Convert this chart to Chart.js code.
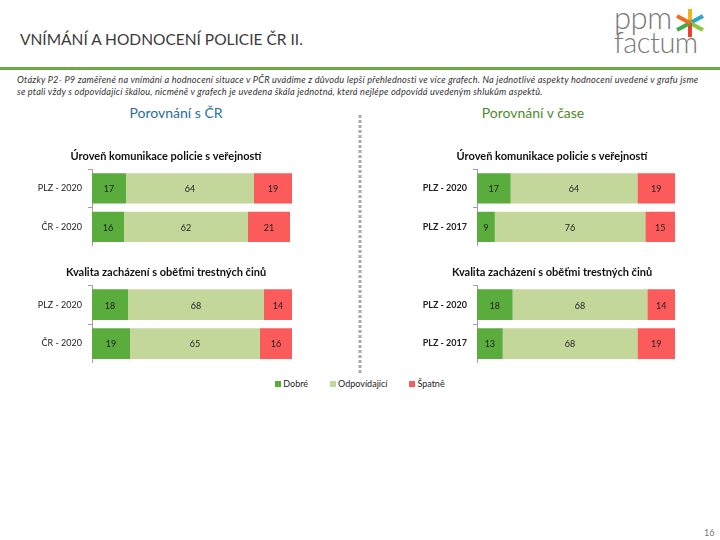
<!DOCTYPE html>
<html lang="cs">
<head>
<meta charset="utf-8">
<script src="https://cdn.jsdelivr.net/npm/chart.js@4/dist/chart.umd.min.js"></script>
<style>
  html, body { margin: 0; padding: 0; background: #fff; }
  body { width: 720px; height: 540px; position: relative; overflow: hidden; font-family: Lato, "Open Sans", sans-serif; }
  .abs { position: absolute; }
  #title { left: 20px; top: 30px; font-size: 15.5px; color: #3a3a3a; }
  #rule { left: 0; top: 67px; width: 720px; height: 3px; background: #6aaa44; }
  #note { left: 17px; top: 74px; width: 690px; font-size: 9.2px; letter-spacing: 0.2px; line-height: 12px; font-style: italic; color: #333; }
  .sub { top: 104px; font-size: 14px; width: 200px; text-align: center; }
  #subL { left: 76px; color: #2a6e9e; }
  #subR { left: 433px; color: #4f8a2d; }
  #legend { left: 0; top: 378px; width: 720px; text-align: center; font-size: 9px; color: #222; }
  #legend span.item { margin: 0 11px; }
  #legend i { display: inline-block; width: 6px; height: 6px; margin-right: 2px; vertical-align: 0; }
  #page { left: 704px; top: 527px; font-size: 9px; color: #777; }
  canvas { position: absolute; }
</style>
</head>
<body>
<div id="title" class="abs">VNÍMÁNÍ A HODNOCENÍ POLICIE ČR II.</div>
<div id="logo" class="abs" style="left:612px; top:4px; width:100px; height:60px;">
  <div class="abs" style="left:2px; top:-6px; font-size:31px; color:#7a7a7a; font-weight:300; letter-spacing:-0.5px;">ppm</div>
  <div class="abs" style="left:2px; top:20px; font-size:29px; color:#7a7a7a; font-weight:300; letter-spacing:-0.5px;">factum</div>
  <svg class="abs" style="left:62px; top:4px;" width="32" height="30" viewBox="0 0 32 30">
    <g stroke-width="4" stroke-linecap="butt">
      <line x1="16" y1="15" x2="16" y2="1" stroke="#f5b21c"/>
      <line x1="16" y1="15" x2="29" y2="8" stroke="#2aa7c9"/>
      <line x1="16" y1="15" x2="29" y2="22" stroke="#8dc63f"/>
      <line x1="16" y1="15" x2="16" y2="29" stroke="#e8412c"/>
      <line x1="16" y1="15" x2="3" y2="22" stroke="#3fae49"/>
      <line x1="16" y1="15" x2="3" y2="8" stroke="#f26b21"/>
    </g>
  </svg>
</div>
<div id="rule" class="abs"></div>
<div id="note" class="abs">Otázky P2- P9 zaměřené na vnímání a hodnocení situace v PČR uvádíme z důvodu lepší přehlednosti ve více grafech. Na jednotlivé aspekty hodnocení uvedené v grafu jsme se ptali vždy s odpovídající škálou, nicméně v grafech je uvedena škála jednotná, která nejlépe odpovídá uvedeným shlukům aspektů.</div>
<div id="subL" class="abs sub">Porovnání s ČR</div>
<div id="subR" class="abs sub">Porovnání v čase</div>
<svg class="abs" style="left:357px; top:115px;" width="6" height="258">
  <line x1="3" y1="0" x2="3" y2="258" stroke="#aaaaaa" stroke-width="3" stroke-dasharray="3 2"/>
</svg>

<canvas id="c1"></canvas>
<canvas id="c2"></canvas>
<canvas id="c3"></canvas>
<canvas id="c4"></canvas>

<div id="legend" class="abs"></div>
<div id="page" class="abs">16</div>

<script>
  // series and colours
  const seriesNames = ["Dobré", "Odpovídající", "Špatně"];
  const seriesColors = ["#5aac3c", "#c4d79b", "#fb5b5b"];

  // category labels
  const labelsCR = ["PLZ - 2020", "ČR - 2020"];
  const labelsTime = ["PLZ - 2020", "PLZ - 2017"];

  // chart titles
  const titleKomunikace = "Úroveň komunikace policie s veřejností";
  const titleObeti = "Kvalita zacházení s oběťmi trestných činů";

  // Porovnání s ČR - komunikace
  const komCrDobre = [17, 16];
  const komCrOdp = [64, 62];
  const komCrSpatne = [19, 21];

  // Porovnání s ČR - oběti
  const obetiCrDobre = [18, 19];
  const obetiCrOdp = [68, 65];
  const obetiCrSpatne = [14, 16];

  // Porovnání v čase - komunikace
  const komTimeDobre = [17, 9];
  const komTimeOdp = [64, 76];
  const komTimeSpatne = [19, 15];

  // Porovnání v čase - oběti
  const obetiTimeDobre = [18, 13];
  const obetiTimeOdp = [68, 68];
  const obetiTimeSpatne = [14, 19];

  const FONT = "Lato, 'Open Sans', sans-serif";

  // draws the value in the middle of each segment
  const valueLabels = {
    id: "valueLabels",
    afterDatasetsDraw(chart) {
      const ctx = chart.ctx;
      ctx.save();
      ctx.font = "9px " + FONT;
      ctx.fillStyle = "#222";
      ctx.textAlign = "center";
      ctx.textBaseline = "middle";
      chart.data.datasets.forEach((ds, i) => {
        const meta = chart.getDatasetMeta(i);
        meta.data.forEach((bar, j) => {
          ctx.fillText(ds.data[j], (bar.x + bar.base) / 2, bar.y + 1);
        });
      });
      ctx.restore();
    }
  };

  // the category labels stick out into the left padding, so don't clip them there
  const unclipLabels = {
    id: "unclipLabels",
    afterLayout(chart) {
      chart.scales.y.left = 0;
    }
  };

  // box.pad keeps the title centred over the bars, labels go into that padding
  function makeChart(id, box, title, labels, dobre, odp, spatne, boldLabels) {
    const canvas = document.getElementById(id);
    canvas.style.left = box.left + "px";
    canvas.style.top = box.top + "px";
    canvas.width = box.width;
    canvas.height = box.height;

    const values = [dobre, odp, spatne];
    return new Chart(canvas.getContext("2d"), {
      type: "bar",
      data: {
        labels: labels,
        datasets: seriesNames.map((name, i) => ({
          label: name,
          data: values[i],
          backgroundColor: seriesColors[i],
          borderWidth: 0,
          barPercentage: 1,
          categoryPercentage: 0.79
        }))
      },
      options: {
        indexAxis: "y",
        responsive: false,
        animation: false,
        layout: { padding: { left: box.pad, right: 0, top: 0, bottom: 0 } },
        plugins: {
          legend: { display: false },
          tooltip: { enabled: false },
          title: {
            display: true,
            text: title,
            color: "#111",
            font: { family: FONT, size: 11, weight: "bold" },
            padding: { top: 2, bottom: 6 }
          }
        },
        scales: {
          x: { stacked: true, min: 0, max: 100, display: false },
          y: {
            stacked: true,
            grid: { drawOnChartArea: false, offset: true, tickLength: 4, color: "#a0a0a0" },
            border: { display: true, color: "#a0a0a0" },
            ticks: {
              color: "#222",
              padding: 6,
              font: { family: FONT, size: 9, weight: boldLabels ? "bold" : "normal" }
            },
            afterFit(scale) {
              scale.width = box.axis;
              scale.paddingTop = 0;
              scale.paddingBottom = 0;
            }
          }
        }
      },
      plugins: [valueLabels, unclipLabels]
    });
  }

  makeChart("c1", { left: 0, top: 148, width: 292, height: 98, pad: 40, axis: 52 },
    titleKomunikace, labelsCR, komCrDobre, komCrOdp, komCrSpatne, false);
  makeChart("c2", { left: 0, top: 264, width: 292, height: 99, pad: 40, axis: 52 },
    titleObeti, labelsCR, obetiCrDobre, obetiCrOdp, obetiCrSpatne, false);
  makeChart("c3", { left: 380, top: 148, width: 295, height: 98, pad: 49, axis: 48 },
    titleKomunikace, labelsTime, komTimeDobre, komTimeOdp, komTimeSpatne, true);
  makeChart("c4", { left: 380, top: 264, width: 295, height: 99, pad: 49, axis: 48 },
    titleObeti, labelsTime, obetiTimeDobre, obetiTimeOdp, obetiTimeSpatne, true);

  // shared legend
  const legend = document.getElementById("legend");
  seriesNames.forEach((name, i) => {
    const item = document.createElement("span");
    item.className = "item";
    item.innerHTML = '<i style="background:' + seriesColors[i] + '"></i>' + name;
    legend.appendChild(item);
  });
</script>
</body>
</html>
